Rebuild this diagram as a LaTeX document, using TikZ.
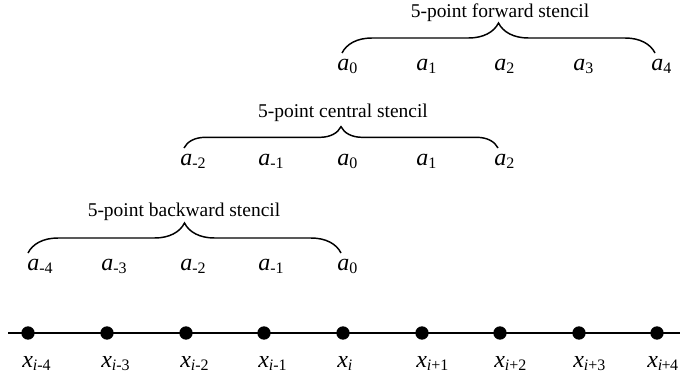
\documentclass[tikz,border=0pt]{standalone}
\usepackage{fontspec}
\setmainfont{Liberation Serif}
\usetikzlibrary{decorations.pathreplacing}
\newcommand{\stlab}[2]{\textit{#1}\raisebox{-0.13em}{\fontsize{12}{12}\selectfont #2}}

\begin{document}
\begin{tikzpicture}[
  x=0.75pt, y=-0.75pt,
  dot/.style={circle, fill=black, inner sep=0pt, minimum size=10pt},
  lbl/.style={anchor=base west, inner sep=0pt, font=\fontsize{18}{20}\selectfont},
  title/.style={anchor=base, inner sep=0pt, font=\fontsize{14.6}{17}\selectfont},
  stencilbrace/.style={decorate, decoration={brace, amplitude=#1}, line width=1.1pt},
  stencilbrace/.default=22.5pt
]
\useasboundingbox (0,0) rectangle (680,382);

% grid line and points
\coordinate (lstart) at (8,333);
\coordinate (lend) at (680,333);
\draw[line width=1.5pt] (lstart) -- (lend);
\foreach \k/\xx in {1/28,2/107,3/186,4/264,5/343,6/422,7/500,8/579,9/657}
  \node[dot] (d\k) at (\xx,333) {};

\node[lbl] (x1) at (22,367) {\stlab{x}{\textit{i}-4}};
\node[lbl] (x2) at (101,367) {\stlab{x}{\textit{i}-3}};
\node[lbl] (x3) at (180,367) {\stlab{x}{\textit{i}-2}};
\node[lbl] (x4) at (258,367) {\stlab{x}{\textit{i}-1}};
\node[lbl] (x5) at (337,367) {\stlab{x}{\textit{i}}};
\node[lbl] (x6) at (416,367) {\stlab{x}{\textit{i}+1}};
\node[lbl] (x7) at (494,367) {\stlab{x}{\textit{i}+2}};
\node[lbl] (x8) at (573,367) {\stlab{x}{\textit{i}+3}};
\node[lbl] (x9) at (647,367) {\stlab{x}{\textit{i}\kern-0.5pt+\kern-0.5pt4}};

% forward stencil
\node[lbl] (fa0) at (337,70) {\stlab{a}{0}};
\node[lbl] (fa1) at (416,70) {\stlab{a}{1}};
\node[lbl] (fa2) at (494,70) {\stlab{a}{2}};
\node[lbl] (fa3) at (573,70) {\stlab{a}{3}};
\node[lbl] (fa4) at (651,70) {\stlab{a}{4}};
\coordinate (fwdL) at (342,53);
\coordinate (fwdR) at (655,53);
\draw[stencilbrace] (fwdL) -- (fwdR);
\node[title] (fwd) at (500,17) {5-point forward stencil};

% central stencil
\node[lbl] (ca-2) at (180,165) {\stlab{a}{-2}};
\node[lbl] (ca-1) at (258,165) {\stlab{a}{-1}};
\node[lbl] (ca0) at (337,165) {\stlab{a}{0}};
\node[lbl] (ca1) at (416,165) {\stlab{a}{1}};
\node[lbl] (ca2) at (494,165) {\stlab{a}{2}};
\coordinate (cenL) at (184,148);
\coordinate (cenR) at (498,148);
\draw[stencilbrace=16pt] (cenL) -- (cenR);
\node[title] (cen) at (343,117) {5-point central stencil};

% backward stencil
\node[lbl] (ba-4) at (27,270) {\stlab{a}{-4}};
\node[lbl] (ba-3) at (101,270) {\stlab{a}{-3}};
\node[lbl] (ba-2) at (180,270) {\stlab{a}{-2}};
\node[lbl] (ba-1) at (258,270) {\stlab{a}{-1}};
\node[lbl] (ba0) at (337,270) {\stlab{a}{0}};
\coordinate (bwdL) at (28,253);
\coordinate (bwdR) at (341,253);
\draw[stencilbrace] (bwdL) -- (bwdR);
\node[title] (bwd) at (184,216) {5-point backward stencil};
\end{tikzpicture}
\end{document}
